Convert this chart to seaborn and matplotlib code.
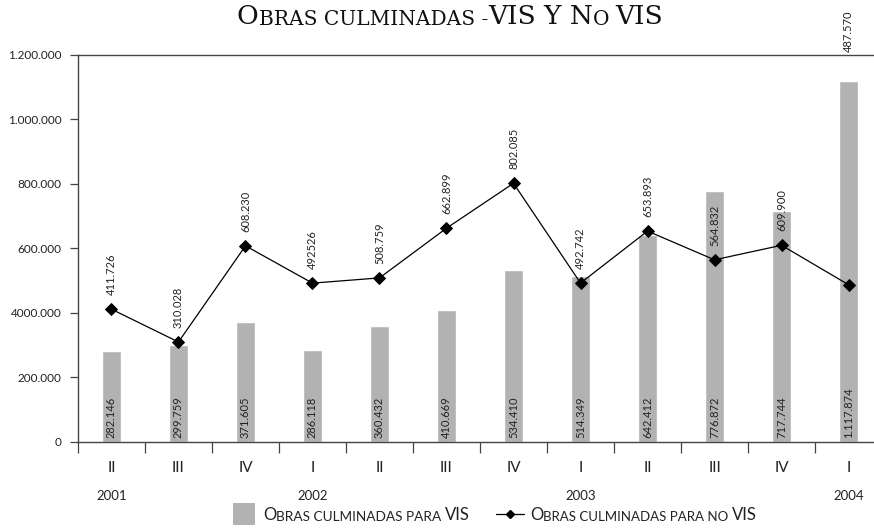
"""
Obras culminadas VIS y no VIS: bars for VIS, line for no VIS.
"""
import matplotlib
matplotlib.use("Agg")
import matplotlib.pyplot as plt
import matplotlib.transforms as mtransforms
from matplotlib.lines import Line2D
from matplotlib.patches import Rectangle
import numpy as np
import pandas as pd
import seaborn as sns

# data
periodos = ["2001-II", "2001-III", "2001-IV", "2002-I", "2002-II", "2002-III",
            "2002-IV", "2003-I", "2003-II", "2003-III", "2003-IV", "2004-I"]
trimestres = ["II", "III", "IV", "I", "II", "III", "IV", "I", "II", "III", "IV", "I"]
anios = ["2001", "", "", "2002", "", "", "", "2003", "", "", "", "2004"]
vis = [282146, 299759, 371605, 286118, 360432, 410669,
       534410, 514349, 642412, 776872, 717744, 1117874]
no_vis = [411726, 310028, 608230, 492526, 508759, 662899,
          802085, 492742, 653893, 564832, 609900, 487570]
vis_labels = ["282.146", "299.759", "371.605", "286.118", "360.432", "410.669",
              "534.410", "514.349", "642.412", "776.872", "717.744", "1.117.874"]
no_vis_labels = ["411.726", "310.028", "608.230", "492526", "508.759", "662.899",
                 "802.085", "492.742", "653.893", "564.832", "609.900", "487.570"]
y_ticks = [0, 200000, 400000, 600000, 800000, 1000000, 1200000]
y_tick_labels = ["0", "200.000", "4000.000", "600.000", "800.000", "1.000.000", "1.200.000"]

sns.set_theme(style="white")
plt.rcParams["font.family"] = ["Lato", "DejaVu Sans"]
TXT = "#222222"
AX = "#444444"

df = pd.DataFrame({"periodo": periodos, "vis": vis, "no_vis": no_vis})

fig = plt.figure(figsize=(8.74, 5.28), dpi=100)
ax = fig.add_axes([0.0892, 0.1629, 0.9108, 0.733])

sns.barplot(data=df, x="periodo", y="vis", color="#b2b2b2", width=0.27,
            saturation=1, ax=ax, zorder=1)
sns.pointplot(data=df, x="periodo", y="no_vis", color="black", markers="D",
              markersize=6, linewidth=0.9, ax=ax, zorder=3)

ax.set_xlim(-0.5, 11.38)
ax.set_ylim(0, 1200000)
ax.set_xlabel("")
ax.set_ylabel("")

# y axis
ax.set_yticks(y_ticks)
ax.set_yticklabels(y_tick_labels, fontsize=8.5)
ax.tick_params(axis="y", direction="out", length=6, width=0.9, color=AX, pad=6,
               left=True, labelcolor=TXT)

# x axis: boundary ticks as minor, quarter labels on majors
ax.set_xticks(range(len(trimestres)))
ax.set_xticklabels(trimestres, fontsize=11)
ax.set_xticks(np.arange(-0.5, 11, 1), minor=True)
ax.tick_params(axis="x", which="major", length=0, pad=14, labelcolor=TXT)
ax.tick_params(axis="x", which="minor", direction="out", length=8, width=0.9,
               color=AX, bottom=True)
for i, a in enumerate(anios):
    if a:
        ax.annotate(a, xy=(i, 0), xycoords=ax.get_xaxis_transform(),
                    xytext=(0, -39), textcoords="offset points",
                    ha="center", va="center", fontsize=9.5, color=TXT,
                    annotation_clip=False)

for side in ["left", "bottom", "top"]:
    ax.spines[side].set_visible(True)
    ax.spines[side].set_color(AX)
    ax.spines[side].set_linewidth(1.0)
ax.spines["right"].set_visible(False)

# value labels
for i, (v, lab) in enumerate(zip(vis, vis_labels)):
    ax.annotate(lab, xy=(i, 0), xytext=(0, 3), textcoords="offset points",
                rotation=90, ha="center", va="bottom", fontsize=8, color=TXT)

top_trans = mtransforms.blended_transform_factory(ax.transData, ax.transAxes)
for i, (v, lab) in enumerate(zip(no_vis, no_vis_labels)):
    if i == len(no_vis) - 1:
        # last label sits above the frame
        ax.annotate(lab, xy=(i, 1.0), xycoords=top_trans, xytext=(0, 2),
                    textcoords="offset points", rotation=90, ha="center",
                    va="bottom", fontsize=8, color=TXT, annotation_clip=False)
    else:
        ax.annotate(lab, xy=(i, v), xytext=(0, 10), textcoords="offset points",
                    rotation=90, ha="center", va="bottom", fontsize=8, color=TXT)


def small_caps(parts, x, y, **kw):
    """Chain text pieces of different sizes to fake small caps."""
    prev = fig.text(x, y, parts[0][0], fontsize=parts[0][1], va="baseline",
                    ha="left", **kw)
    for s, fs in parts[1:]:
        prev = fig.add_artist(plt.Annotation(s, xy=(1, 0), xycoords=prev,
                                             fontsize=fs, va="bottom", ha="left",
                                             **kw))
    return prev


serif = ["DejaVu Serif"]
small_caps([("O", 19), ("BRAS CULMINADAS -", 14.5), ("VIS Y N", 19),
            ("O ", 14.5), ("VIS", 19)],
           0.271, 0.955, family=serif, color="#111111")

# legend
fig.add_artist(Rectangle((0.2666, 0.0057), 0.0252, 0.0417, transform=fig.transFigure,
                         facecolor="#b2b2b2", edgecolor="none"))
small_caps([("O", 12), ("BRAS CULMINADAS PARA ", 9.8), ("VIS", 12)],
           0.301, 0.0152, color=TXT)
fig.add_artist(Line2D([0.568, 0.583, 0.599], [0.0265, 0.0265, 0.0265],
                      transform=fig.transFigure, color="black", linewidth=0.9,
                      marker="D", markersize=4.5, markevery=[1]))
small_caps([("O", 12), ("BRAS CULMINADAS PARA NO ", 9.5), ("VIS", 12)],
           0.6064, 0.0152, color=TXT)

fig.savefig("out.png", dpi=100)
